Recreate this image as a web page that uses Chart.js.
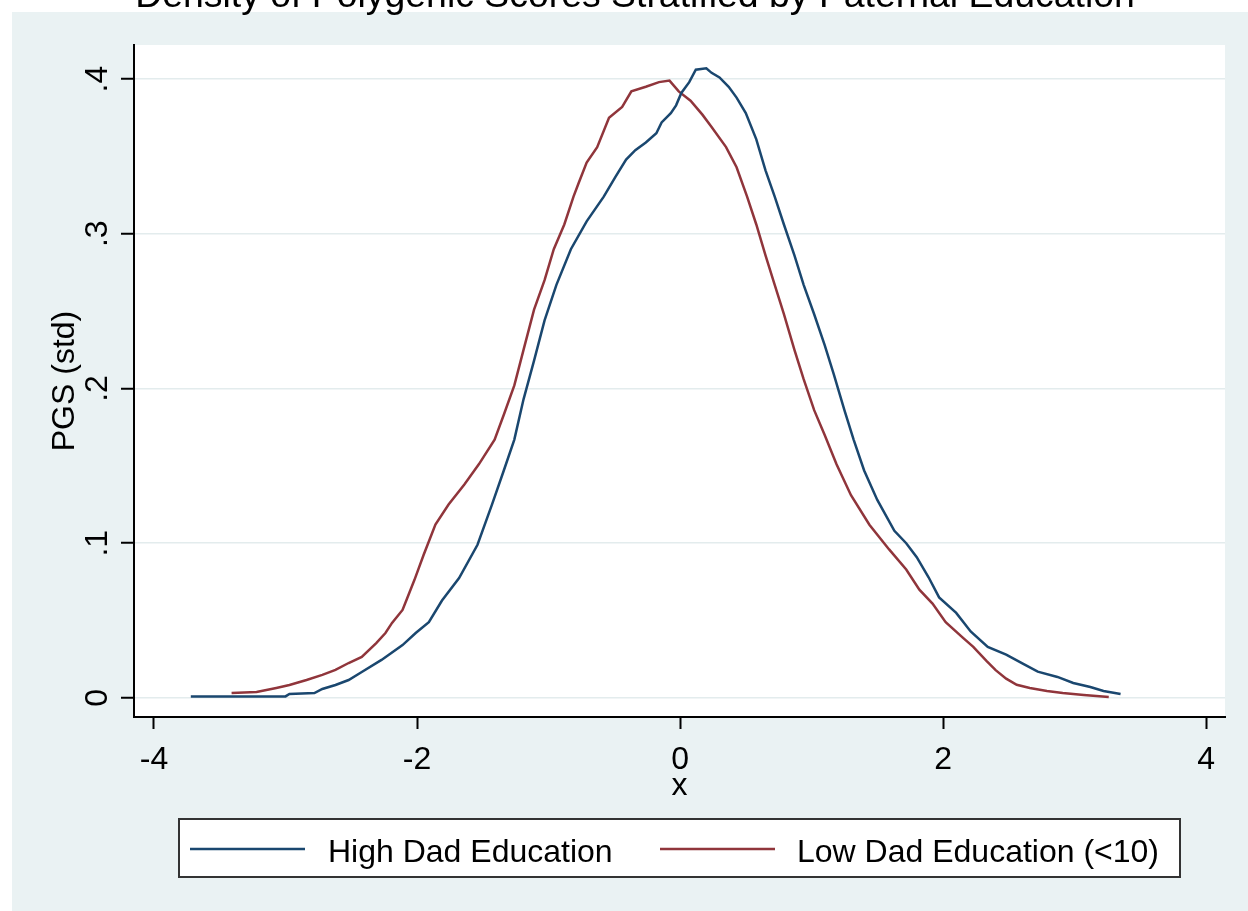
<!DOCTYPE html>
<html>
<head>
<meta charset="utf-8">
<script src="https://cdn.jsdelivr.net/npm/chart.js@4.4.1/dist/chart.umd.min.js"></script>
<style>
  html, body { margin: 0; padding: 0; background: #fff; }
  #wrap { width: 1248px; height: 911px; }
</style>
</head>
<body>
<div id="wrap"><canvas id="densityChart" width="1248" height="911"></canvas></div>
<script>
// Kernel density curves
const highX = [-3.72, -3.00, -2.97, -2.78, -2.72, -2.62, -2.52, -2.42, -2.27, -2.11, -2.01, -1.91, -1.81, -1.68, -1.54,
    -1.43, -1.34, -1.26, -1.19, -1.11, -1.03, -0.94, -0.83, -0.71, -0.58, -0.49, -0.41, -0.34, -0.26, -0.18, -0.14,
    -0.07, -0.03, 0.01, 0.07, 0.12, 0.20, 0.24, 0.30, 0.37, 0.43, 0.50, 0.58, 0.65, 0.72, 0.79, 0.87, 0.94, 1.02,
    1.10, 1.17, 1.25, 1.32, 1.40, 1.50, 1.63, 1.72, 1.80, 1.89, 1.97, 2.10, 2.21, 2.34, 2.48, 2.61, 2.72, 2.87, 2.99,
    3.12, 3.22, 3.35];
const highY = [0.001, 0.001, 0.0026, 0.0032, 0.0058, 0.0084, 0.0116, 0.0168, 0.0246, 0.0342, 0.042, 0.049, 0.063, 0.0775, 0.099,
    0.125, 0.147, 0.167, 0.193, 0.218, 0.244, 0.267, 0.290, 0.308, 0.324, 0.337, 0.348, 0.354, 0.359, 0.365, 0.372,
    0.378, 0.383, 0.391, 0.398, 0.406, 0.407, 0.404, 0.401, 0.395, 0.388, 0.378, 0.361, 0.341, 0.324, 0.306, 0.286, 0.267, 0.248,
    0.228, 0.209, 0.186, 0.167, 0.147, 0.128, 0.108, 0.100, 0.091, 0.078, 0.065, 0.055, 0.043, 0.033, 0.028, 0.022, 0.017, 0.0136, 0.0097,
    0.0071, 0.0045, 0.0026];

const lowX = [-3.41, -3.22, -3.07, -2.97, -2.84, -2.72, -2.62, -2.52, -2.42, -2.31, -2.24, -2.19, -2.11, -2.08, -2.02,
    -1.95, -1.86, -1.76, -1.64, -1.53, -1.41, -1.34, -1.26, -1.19, -1.11, -1.03, -0.96, -0.88, -0.81, -0.77, -0.71,
    -0.63, -0.54, -0.44, -0.37, -0.26, -0.16, -0.08, -0.01, 0.08, 0.17, 0.24, 0.35, 0.43, 0.51, 0.58, 0.65, 0.72,
    0.79, 0.87, 0.94, 1.02, 1.10, 1.19, 1.30, 1.44, 1.59, 1.72, 1.82, 1.92, 2.02, 2.15, 2.23, 2.33, 2.40, 2.48,
    2.56, 2.66, 2.79, 2.91, 3.07, 3.26];
const lowY = [0.0032, 0.0039, 0.0065, 0.0084, 0.0116, 0.0149, 0.0181, 0.0226, 0.0265, 0.0355, 0.042, 0.0485, 0.0569, 0.0633, 0.0762,
    0.0924, 0.112, 0.125, 0.138, 0.151, 0.167, 0.183, 0.202, 0.225, 0.251, 0.270, 0.290, 0.306, 0.324, 0.333, 0.346,
    0.356, 0.375, 0.382, 0.392, 0.395, 0.398, 0.399, 0.392, 0.386, 0.377, 0.369, 0.356, 0.343, 0.324, 0.306, 0.286, 0.267,
    0.248, 0.225, 0.206, 0.186, 0.170, 0.151, 0.131, 0.112, 0.096, 0.083, 0.070, 0.061, 0.049, 0.039, 0.033, 0.024, 0.018, 0.0125,
    0.0085, 0.0065, 0.0045, 0.0032, 0.0019, 0.0006];

const seriesLabels = ['High Dad Education', 'Low Dad Education (<10)'];
const xTicks = [-4, -2, 0, 2, 4];
const xTickLabels = ['-4', '-2', '0', '2', '4'];
const yTicks = [0, 0.1, 0.2, 0.3, 0.4];
const yTickLabels = ['0', '.1', '.2', '.3', '.4'];
const chartTitle = 'Density of Polygenic Scores Stratified by Paternal Education';

const FONT = '"Liberation Sans", Arial, sans-serif';
const colors = ['#1a476f', '#90353b'];

const toPoints = (xs, ys) => xs.map((x, i) => ({ x, y: ys[i] }));

const stataFrame = {
    id: 'stataFrame',
    beforeDraw(chart) {
        const { ctx, chartArea: a } = chart;
        ctx.save();
        ctx.fillStyle = '#ffffff';
        ctx.fillRect(0, 0, chart.width, chart.height);
        ctx.fillStyle = '#eaf2f3';
        ctx.fillRect(12, 12, chart.width - 12, chart.height - 12);
        ctx.fillStyle = '#ffffff';
        ctx.fillRect(a.left, a.top, a.right - a.left, a.bottom - a.top);
        ctx.restore();
    },
    afterDraw(chart) {
        const { ctx } = chart;
        const yScale = chart.scales.y;
        ctx.save();

        // title, partly cut off by the top edge
        ctx.fillStyle = '#000';
        ctx.font = `37.4px ${FONT}`;
        ctx.textAlign = 'center';
        ctx.textBaseline = 'alphabetic';
        ctx.fillText(chartTitle, 635, 7);

        // rotated y tick labels
        ctx.font = `32px ${FONT}`;
        ctx.textBaseline = 'middle';
        yTicks.forEach((v, i) => {
            const py = yScale.getPixelForValue(v);
            ctx.save();
            ctx.translate(98, py);
            ctx.rotate(-Math.PI / 2);
            ctx.fillText(yTickLabels[i], 0, 0);
            ctx.restore();
        });

        // legend box
        ctx.fillStyle = '#fff';
        ctx.fillRect(179, 819, 1001, 58);
        ctx.strokeStyle = '#333';
        ctx.lineWidth = 2;
        ctx.strokeRect(179, 819, 1001, 58);

        const items = [{ x0: 190, x1: 305, tx: 328 }, { x0: 660, x1: 775, tx: 797 }];
        items.forEach((it, i) => {
            ctx.strokeStyle = colors[i];
            ctx.lineWidth = 2.5;
            ctx.beginPath();
            ctx.moveTo(it.x0, 849);
            ctx.lineTo(it.x1, 849);
            ctx.stroke();
            ctx.fillStyle = '#000';
            ctx.textAlign = 'left';
            ctx.textBaseline = 'alphabetic';
            ctx.font = `32px ${FONT}`;
            ctx.fillText(chart.data.datasets[i].label, it.tx, 862);
        });
        ctx.restore();
    }
};

const ctx = document.getElementById('densityChart').getContext('2d');
new Chart(ctx, {
    type: 'line',
    data: {
        datasets: [
            { label: seriesLabels[0], data: toPoints(highX, highY), borderColor: colors[0] },
            { label: seriesLabels[1], data: toPoints(lowX, lowY), borderColor: colors[1] }
        ]
    },
    options: {
        responsive: false,
        animation: false,
        events: [],
        elements: {
            line: { borderWidth: 2.5, tension: 0, fill: false },
            point: { radius: 0 }
        },
        layout: { padding: { left: 12, top: 45, right: 23, bottom: 94 } },
        plugins: {
            legend: { display: false },
            title: { display: false },
            tooltip: { enabled: false }
        },
        scales: {
            x: {
                type: 'linear',
                min: -4.152,
                max: 4.144,
                afterBuildTicks: scale => { scale.ticks = xTicks.map(v => ({ value: v })); },
                afterFit: scale => { scale.height = 100; },
                border: { color: '#000', width: 2 },
                grid: { drawOnChartArea: false, drawTicks: true, tickLength: 12, tickColor: '#000', tickWidth: 2 },
                ticks: {
                    color: '#000',
                    font: { family: FONT, size: 32 },
                    padding: 12,
                    maxRotation: 0,
                    callback: (value) => xTickLabels[xTicks.indexOf(value)]
                },
                title: { display: true, text: 'x', color: '#000', font: { family: FONT, size: 32 }, padding: { top: 0, bottom: 12 } }
            },
            y: {
                type: 'linear',
                min: -0.0123,
                max: 0.422,
                afterBuildTicks: scale => { scale.ticks = yTicks.map(v => ({ value: v })); },
                afterFit: scale => { scale.width = 122; },
                border: { color: '#000', width: 2 },
                grid: { color: '#e3eced', lineWidth: 1.5, drawTicks: true, tickLength: 13, tickColor: '#000', tickWidth: 2 },
                ticks: { display: false },
                title: { display: true, text: 'PGS (std)', color: '#000', font: { family: FONT, size: 32 }, padding: { top: 34, bottom: 0 } }
            }
        }
    },
    plugins: [stataFrame]
});
</script>
</body>
</html>
